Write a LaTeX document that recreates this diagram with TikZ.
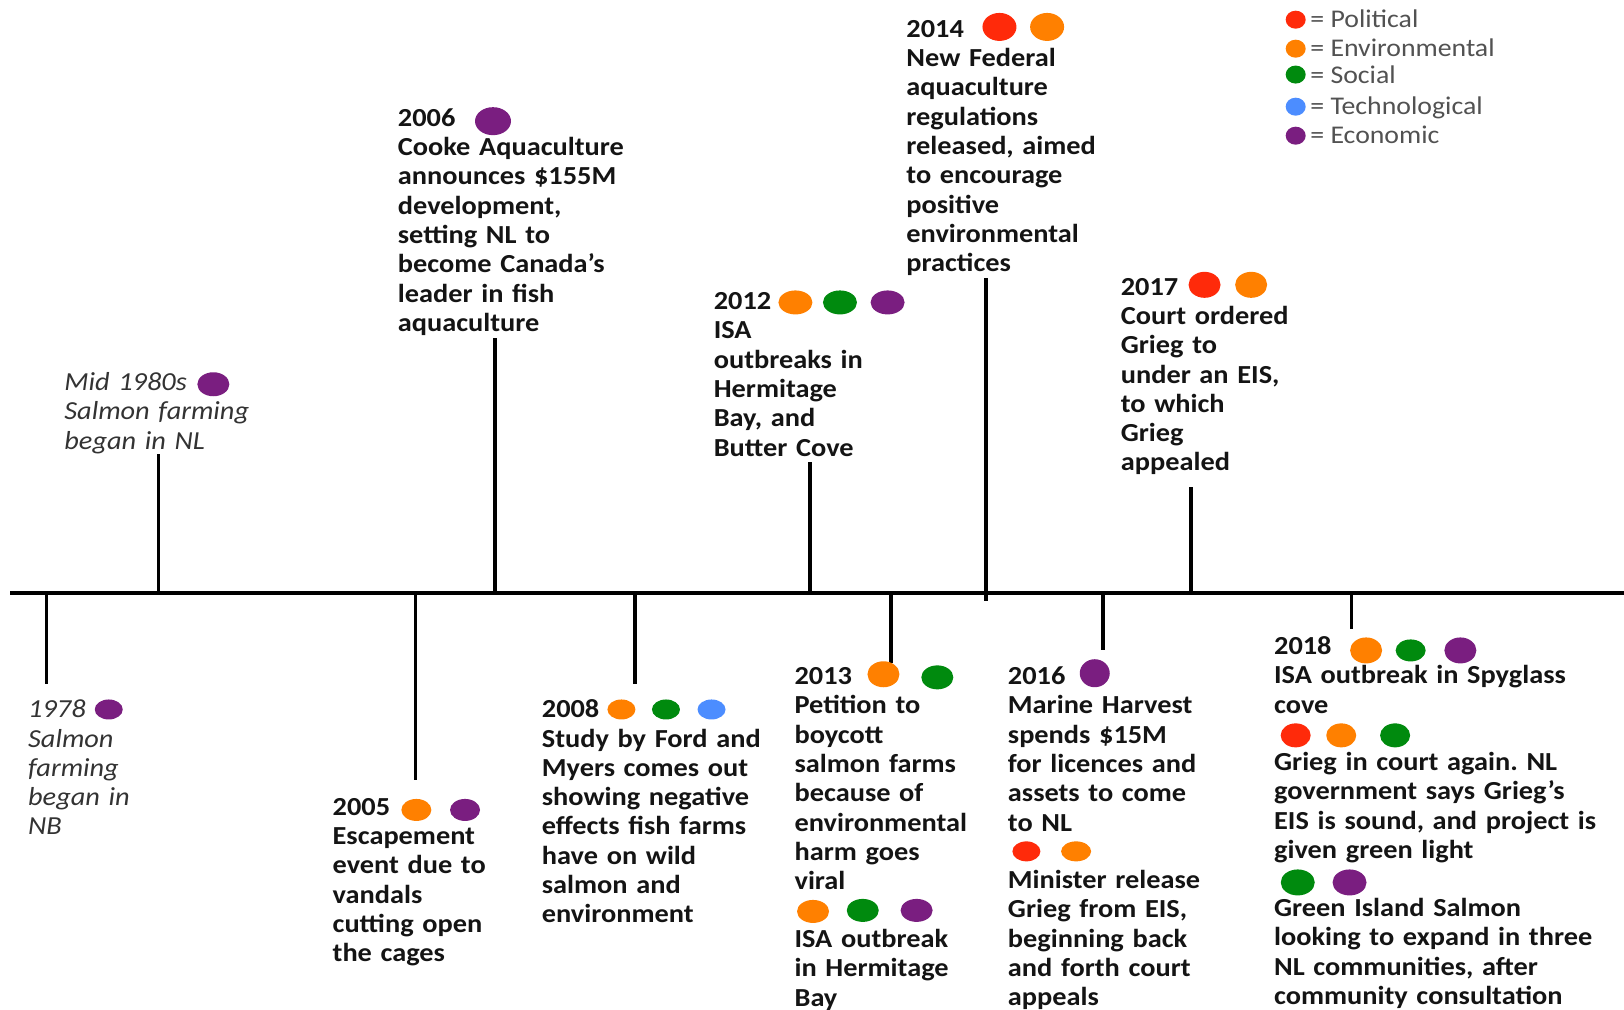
\documentclass[tikz,border=0pt]{standalone}
\usepackage{fontspec}
\setmainfont{Carlito}[FakeStretch=1.09]
\usetikzlibrary{shapes.geometric}
\definecolor{cpol}{HTML}{FF2A0A}
\definecolor{cenv}{HTML}{FF8000}
\definecolor{csoc}{HTML}{008A0E}
\definecolor{ctec}{HTML}{4C8DFF}
\definecolor{ceco}{HTML}{7A1E80}
\definecolor{ctxt}{HTML}{141414}
\frenchspacing
\begin{document}
\begin{tikzpicture}[x=1.0357pt,y=-1.0357pt,
 evt/.style={anchor=base west, inner sep=0pt, align=left, text width=340pt, font=\fontsize{26}{29.3}\selectfont\bfseries, text=ctxt},
 evti/.style={evt, font=\fontsize{26}{29.3}\selectfont\itshape, text=black!80},
 leg/.style={anchor=base west, inner sep=0pt, font=\fontsize{25.5}{28}\selectfont, text=black!68},
 dot/.style={ellipse, fill=#1, draw=none, inner sep=0pt, minimum width=31pt, minimum height=24pt},
 tickline/.style={line width=3.6pt, black},
 axisline/.style={line width=4pt, black}]
\useasboundingbox (0,0) rectangle (1568,975);
\fill[white] (0,0) rectangle (1568,975);

% axis
\coordinate (axL) at (10,573);
\coordinate (axR) at (1568,573);
\draw[axisline] (axL) -- (axR);

% tick coordinates
\coordinate (a78) at (45,573);   \coordinate (e78) at (45,660);
\coordinate (a80) at (153,573);  \coordinate (e80) at (153,438);
\coordinate (a05) at (401,573);  \coordinate (e05) at (401,753);
\coordinate (a06) at (478,573);  \coordinate (e06) at (478,326);
\coordinate (a08) at (613,573);  \coordinate (e08) at (613,660);
\coordinate (a12) at (782,573);  \coordinate (e12) at (782,446);
\coordinate (a13) at (860,573);  \coordinate (e13) at (860,640);
\coordinate (a14) at (952,580);  \coordinate (e14) at (952,268);
\coordinate (a16) at (1065,573); \coordinate (e16) at (1065,628);
\coordinate (a17) at (1150,573); \coordinate (e17) at (1150,470);
\coordinate (a18) at (1305,573); \coordinate (e18) at (1305,607);
\foreach \t in {78,80,05,06,08,12,13,14,16,17,18}
  \draw[tickline] (a\t) -- (e\t);

% Mid 1980s
\node[evti] (t80) at (62,377) {Mid 1980s\\Salmon farming\\began in NL};
\node[dot=ceco, minimum width=32pt, minimum height=24pt] (d80) at (206,371) {};

% 1978
\node[evti] (t78) at (27,693) {1978\\Salmon\\farming\\began in\\NB};
\node[dot=ceco, minimum width=28pt, minimum height=20pt] (d78) at (105,685) {};

% 2006
\node[evt] (t06) at (384,122) {2006\\Cooke Aquaculture\\announces \$155M\\development,\\setting NL to\\become Canada’s\\leader in fish\\aquaculture};
\node[dot=ceco, minimum width=36pt, minimum height=28pt] (d06) at (476,117) {};

% 2005
\node[evt] (t05) at (321,787) {2005\\Escapement\\event due to\\vandals\\cutting open\\the cages};
\node[dot=cenv, minimum width=30pt, minimum height=22pt] (d05a) at (402,782) {};
\node[dot=ceco, minimum width=30pt, minimum height=22pt] (d05b) at (449,782) {};

% 2008
\node[evt] (t08) at (523,693) {2008\\Study by Ford and\\Myers comes out\\showing negative\\effects fish farms\\have on wild\\salmon and\\environment};
\node[dot=cenv, minimum width=28pt, minimum height=20pt] (d08a) at (600,685) {};
\node[dot=csoc, minimum width=28pt, minimum height=20pt] (d08b) at (643,685) {};
\node[dot=ctec, minimum width=28pt, minimum height=20pt] (d08c) at (687,685) {};

% 2012
\node[evt] (t12) at (689,299) {2012\\ISA\\outbreaks in\\Hermitage\\Bay, and\\Butter Cove};
\node[dot=cenv, minimum width=34pt, minimum height=24pt] (d12a) at (768,292) {};
\node[dot=csoc, minimum width=34pt, minimum height=24pt] (d12b) at (811,292) {};
\node[dot=ceco, minimum width=34pt, minimum height=24pt] (d12c) at (857,292) {};

% 2013
\node[evt] (t13) at (767,661) {2013\\Petition to\\boycott\\salmon farms\\because of\\environmental\\harm goes\\viral};
\node[dot=cenv, minimum width=32pt, minimum height=26pt] (d13a) at (853,651) {};
\node[dot=csoc, minimum width=32pt, minimum height=24pt] (d13b) at (905,654) {};
\node[dot=cenv, minimum width=32pt, minimum height=23pt] (d13c) at (785,880) {};
\node[dot=csoc, minimum width=32pt, minimum height=23pt] (d13d) at (833,879) {};
\node[dot=ceco, minimum width=32pt, minimum height=23pt] (d13e) at (885,879) {};
\node[evt] (t13b) at (767,915) {ISA outbreak\\in Hermitage\\Bay};

% 2014
\node[evt] (t14) at (875,36) {2014\\New Federal\\aquaculture\\regulations\\released, aimed\\to encourage\\positive\\environmental\\practices};
\node[dot=cpol, minimum width=34pt, minimum height=28pt] (d14a) at (965,26) {};
\node[dot=cenv, minimum width=34pt, minimum height=28pt] (d14b) at (1011,26) {};

% 2016
\node[evt] (t16) at (973,661) {2016\\Marine Harvest\\spends \$15M\\for licences and\\assets to come\\to NL};
\node[dot=ceco, minimum width=30pt, minimum height=28pt] (d16a) at (1057,650) {};
\node[dot=cpol, minimum width=28pt, minimum height=20pt] (d16b) at (991,822) {};
\node[dot=cenv, minimum width=30pt, minimum height=20pt] (d16c) at (1039,822) {};
\node[evt] (t16b) at (973,858) {Minister release\\Grieg from EIS,\\beginning back\\and forth court\\appeals};

% 2017
\node[evt] (t17) at (1082,285) {2017\\Court ordered\\Grieg to\\under an EIS,\\to which\\Grieg\\appealed};
\node[dot=cpol, minimum width=32pt, minimum height=26pt] (d17a) at (1163,275) {};
\node[dot=cenv, minimum width=32pt, minimum height=26pt] (d17b) at (1208,275) {};

% 2018
\node[evt] (t18) at (1230,632) {2018\\ISA outbreak in Spyglass\\cove};
\node[dot=cenv, minimum width=32pt, minimum height=26pt] (d18a) at (1319,628) {};
\node[dot=csoc, minimum width=30pt, minimum height=22pt] (d18b) at (1362,628) {};
\node[dot=ceco, minimum width=32pt, minimum height=26pt] (d18c) at (1410,628) {};
\node[dot=cpol, minimum width=30pt, minimum height=24pt] (d18d) at (1251,710) {};
\node[dot=cenv, minimum width=30pt, minimum height=24pt] (d18e) at (1295,710) {};
\node[dot=csoc, minimum width=30pt, minimum height=24pt] (d18f) at (1347,710) {};
\node[evt] (t18b) at (1230,744) {Grieg in court again. NL\\government says Grieg’s\\EIS is sound, and project is\\given green light};
\node[dot=csoc, minimum width=34pt, minimum height=26pt] (d18g) at (1253,852) {};
\node[dot=ceco, minimum width=34pt, minimum height=26pt] (d18h) at (1303,852) {};
\node[evt] (t18c) at (1230,885) {Green Island Salmon\\looking to expand in three\\NL communities, after\\community consultation};

% legend
\node[dot=cpol, minimum width=20pt, minimum height=18pt] (lg1) at (1251,19) {};
\node[dot=cenv, minimum width=20pt, minimum height=18pt] (lg2) at (1251,47) {};
\node[dot=csoc, minimum width=20pt, minimum height=18pt] (lg3) at (1251,72) {};
\node[dot=ctec, minimum width=20pt, minimum height=18pt] (lg4) at (1251,103) {};
\node[dot=ceco, minimum width=20pt, minimum height=18pt] (lg5) at (1251,131) {};
\node[leg] (lt1) at (1265,27) {= Political};
\node[leg] (lt2) at (1265,55) {= Environmental};
\node[leg] (lt3) at (1265,81) {= Social};
\node[leg] (lt4) at (1265,111) {= Technological};
\node[leg] (lt5) at (1265,139) {= Economic};
\end{tikzpicture}
\end{document}
